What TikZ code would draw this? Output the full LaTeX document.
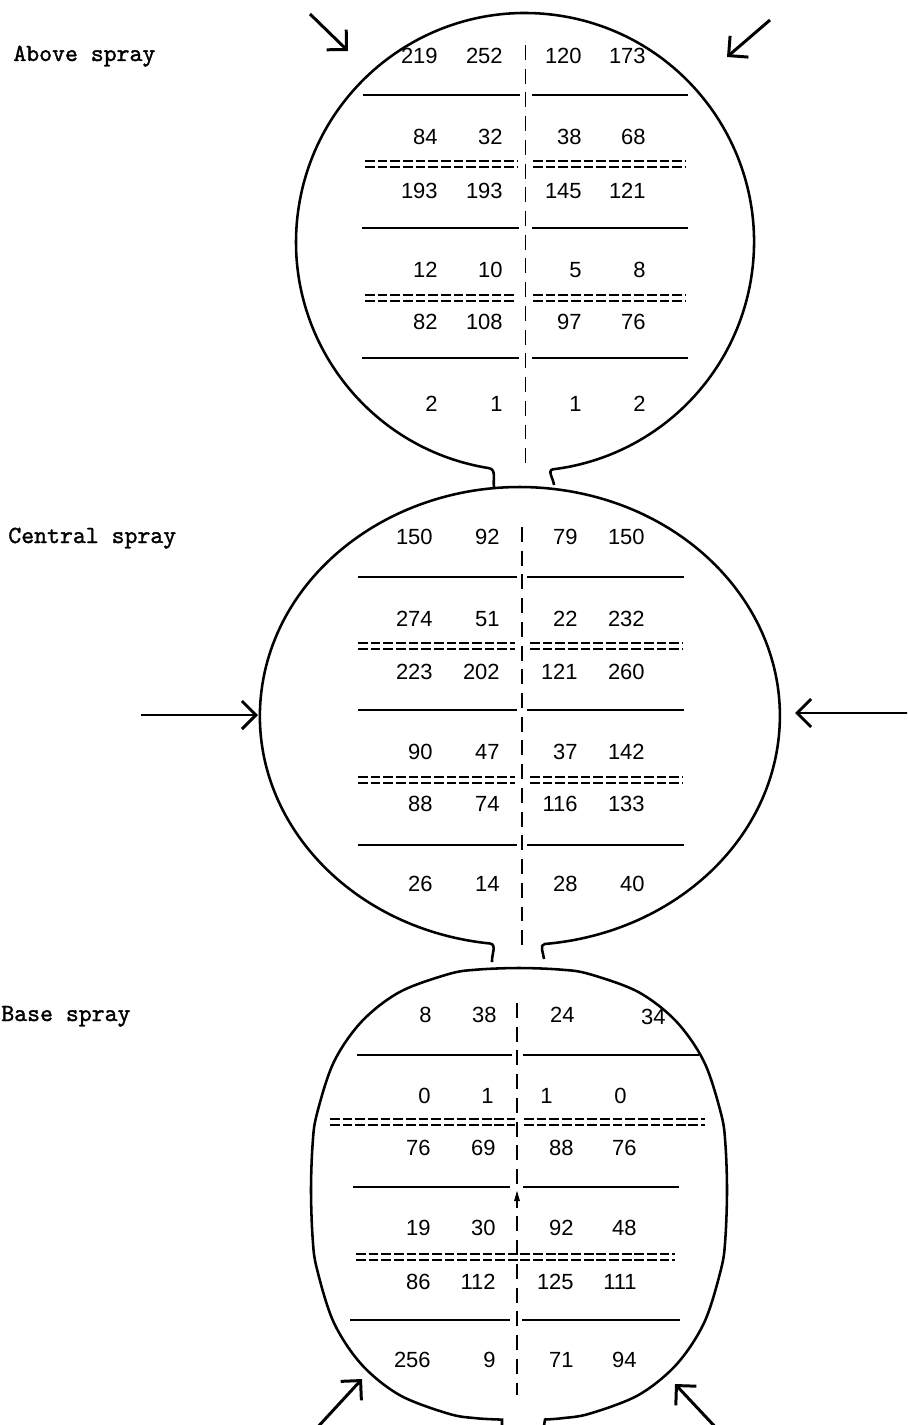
\documentclass[tikz,border=0pt]{standalone}
\usepackage{fontspec}
\newfontfamily\numfont{Liberation Sans}
\newfontfamily\labfont{lmmono10-regular.otf}[FakeBold=1.4]
\usetikzlibrary{arrows.meta}
\tikzset{
  rim/.style={line width=1.45pt},
  hline/.style={line width=1.1pt},
  eqline/.style={line width=1.15pt, double distance=1.9pt, dash pattern=on 5.6pt off 1.6pt},
  divider/.style={line width=1.1pt, dash pattern=on 8.5pt off 5pt},
  num/.style={font=\numfont\fontsize{12.5}{14}\selectfont, inner sep=0pt, anchor=east},
  lab/.style={font=\labfont\fontsize{14}{16}\selectfont, inner sep=0pt, anchor=base west},
  arr/.style={line width=1.7pt, -{Straight Barb[length=8pt,width=16pt]}},
}
\newcommand\numrow[6]{%
  \node[num] (#1a) at (\cA,-#2) {#3};
  \node[num] (#1b) at (\cB,-#2) {#4};
  \node[num] (#1c) at (\cC,-#2) {#5};
  \node[num] (#1d) at (\cD,-#2) {#6};}
\begin{document}
\begin{tikzpicture}[x=0.02cm,y=0.02cm]
\useasboundingbox (0,0) rectangle (907,-1425);
\clip (0,0) rectangle (907,-1425);
% labels
\node[lab] (lAbove) at (13,-61) {Above spray};
\node[lab] (lCentral) at (8,-543) {Central spray};
\node[lab] (lBase) at (1,-1021) {Base spray};

% ---------- circle 1
\draw[rim] (494,-487) to[out=100,in=-12] (489.2,-468.2)
  arc[start angle=261,end angle=-83,radius=229] to[out=190,in=95] (554,-485);
\draw[hline] (363,-95) -- (520,-95) (532,-95) -- (688,-95);
\draw[hline] (362,-228) -- (519,-228) (532,-228) -- (688,-228);
\draw[hline] (362,-358) -- (519,-358) (532,-358) -- (688,-358);
\draw[eqline] (365,-164) -- (517,-164) (533,-164) -- (685,-164);
\draw[eqline] (365,-298) -- (516,-298) (533,-298) -- (685,-298);
\draw[divider] (525.5,-45) -- (525.5,-468);
\def\cA{438}\def\cB{503}\def\cC{582}\def\cD{646}
\numrow{pa}{56}{219}{252}{120}{173}
\numrow{pb}{137}{84}{32}{38}{68}
\numrow{pc}{191}{193}{193}{145}{121}
\numrow{pd}{270}{12}{10}{5}{8}
\numrow{pe}{322}{82}{108}{97}{76}
\numrow{pf}{404}{2}{1}{1}{2}

% ---------- circle 2
\draw[rim] (492,-962) to[out=95,in=-8] (490,-943.5)
  arc[start angle=263.4,end angle=-84.5,x radius=260,y radius=229] to[out=188,in=95] (544,-959);
\draw[hline] (358,-577) -- (517,-577) (527,-577) -- (684,-577);
\draw[hline] (358,-710) -- (517,-710) (527,-710) -- (684,-710);
\draw[hline] (358,-845) -- (517,-845) (527,-845) -- (684,-845);
\draw[eqline] (358,-646) -- (515,-646) (530,-646) -- (683,-646);
\draw[eqline] (358,-780) -- (515,-780) (530,-780) -- (683,-780);
\draw[divider] (522,-527) -- (522,-946);
\def\cA{433}\def\cB{500}\def\cC{578}\def\cD{645}
\numrow{qa}{537}{150}{92}{79}{150}
\numrow{qb}{619}{274}{51}{22}{232}
\numrow{qc}{672}{223}{202}{121}{260}
\numrow{qd}{752}{90}{47}{37}{142}
\numrow{qe}{804}{88}{74}{116}{133}
\numrow{qf}{884}{26}{14}{28}{40}

% ---------- circle 3
\draw[rim] (502,-1432) -- plot[smooth,tension=0.55] coordinates {
  (502,-1419.6) (476,-1418.2) (448.5,-1413.7) (399.5,-1395) (361.4,-1364.3)
  (333.6,-1322.1) (316.7,-1268) (312.6,-1237.5) (311,-1190) (312.6,-1144.2)
  (316.7,-1114.7) (333.6,-1062.5) (361.4,-1021.8) (399.5,-992.1) (448.5,-974.1)
  (476,-969.7) (519,-968) (562,-969.7) (589.5,-974.1) (638.5,-992.1)
  (676.6,-1021.8) (704.4,-1062.5) (721.3,-1114.7) (725.4,-1144.2) (727,-1190)
  (725.4,-1237.5) (721.3,-1268) (704.4,-1322.1) (676.6,-1364.3) (638.5,-1395)
  (589.5,-1413.7) (562,-1418.2) (545,-1419.5)} -- (543,-1432);
\draw[hline] (357,-1055) -- (512,-1055) (523,-1055) -- (699,-1055);
\draw[hline] (353,-1187) -- (510,-1187) (523,-1187) -- (679,-1187);
\draw[hline] (350,-1320) -- (510,-1320) (522,-1320) -- (680,-1320);
\draw[eqline] (330,-1122) -- (515,-1122) (524,-1122) -- (705,-1122);
\draw[eqline] (356,-1257) -- (675,-1257);
\draw[divider] (517,-1003) -- (517,-1395);
\fill (517,-1191) -- (514,-1201) -- (520,-1201) -- cycle;
\def\cA{431}\def\cB{496}\def\cC{574}\def\cD{637}
\node[num] (raa) at (432,-1015) {8};
\node[num] (rab) at (497,-1015) {38};
\node[num] (rac) at (575,-1015) {24};
\node[num] (rad) at (666,-1017) {34};
\node[num] (rba) at (431,-1096) {0};
\node[num] (rbb) at (494,-1096) {1};
\node[num] (rbc) at (553,-1096) {1};
\node[num] (rbd) at (627,-1096) {0};
\numrow{rc}{1148}{76}{69}{88}{76}
\numrow{rd}{1228}{19}{30}{92}{48}
\numrow{re}{1282}{86}{112}{125}{111}
\numrow{rf}{1360}{256}{9}{71}{94}

% ---------- arrows
\coordinate (t1s) at (310,-14);  \coordinate (t1e) at (348,-51);
\coordinate (t2s) at (770,-20);  \coordinate (t2e) at (727,-57);
\coordinate (c1s) at (141,-715); \coordinate (c1e) at (258,-715);
\coordinate (c2s) at (910,-713); \coordinate (c2e) at (795,-713);
\coordinate (b1s) at (315,-1430); \coordinate (b1e) at (362,-1379);
\coordinate (b2s) at (720,-1432); \coordinate (b2e) at (675,-1384);
\draw[arr] (t1s) -- (t1e);
\draw[arr] (t2s) -- (t2e);
\draw[arr] (c1s) -- (c1e);
\draw[arr] (c2s) -- (c2e);
\draw[arr] (b1s) -- (b1e);
\draw[arr] (b2s) -- (b2e);
\end{tikzpicture}
\end{document}
